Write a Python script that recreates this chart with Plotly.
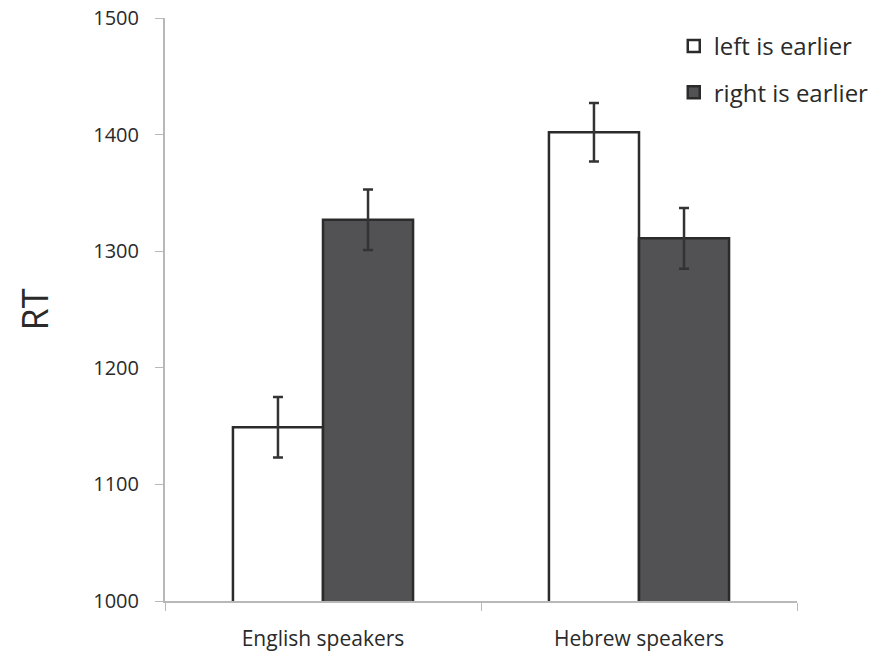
import plotly.graph_objects as go

groups = ["English speakers", "Hebrew speakers"]
left_rt = [1149, 1402]
left_err = [26, 25]
right_rt = [1327, 1311]
right_err = [26, 26]
y_ticks = [1000, 1100, 1200, 1300, 1400, 1500]

font_family = "Open Sans, sans-serif"
text_color = "#2a2a2a"
axis_gray = "#b8b8b8"

fig = go.Figure()
fig.add_trace(go.Bar(
    name="left is earlier", x=groups, y=left_rt, legendgroup="left",
    marker=dict(color="white", line=dict(color="#2b2b2b", width=2.5)),
    error_y=dict(type="data", array=left_err, color="#333333", thickness=2.5, width=5),
))
fig.add_trace(go.Bar(
    name="right is earlier", x=groups, y=right_rt, legendgroup="right",
    marker=dict(color="#525254", line=dict(color="#2b2b2b", width=2.5)),
    error_y=dict(type="data", array=right_err, color="#333333", thickness=2.5, width=5),
))

fig.update_layout(
    width=890, height=657,
    margin=dict(l=165, r=93, t=18, b=56),
    paper_bgcolor="white", plot_bgcolor="white",
    barmode="group", bargap=0.43, bargroupgap=0,
    font=dict(family=font_family, color=text_color, size=18),
    legend=dict(
        x=0.805, y=0.99, xanchor="left", yanchor="top",
        font=dict(size=24, color=text_color),
        bgcolor="rgba(0,0,0,0)", itemwidth=30,
        traceorder="grouped", tracegroupgap=12,
    ),
    xaxis=dict(
        showline=True, linecolor=axis_gray, linewidth=2,
        ticks="outside", tickson="boundaries", ticklen=8, tickcolor=axis_gray,
        tickfont=dict(size=21), ticklabelstandoff=18, showgrid=False,
        automargin=False,
    ),
    yaxis=dict(
        range=[1000, 1500], tickvals=y_ticks,
        showline=True, linecolor=axis_gray, linewidth=2,
        ticks="outside", ticklen=8, tickcolor=axis_gray,
        tickfont=dict(size=20), ticklabelstandoff=12,
        showgrid=False, zeroline=False, automargin=False,
        title=dict(text="RT", font=dict(size=36, family=font_family), standoff=34),
    ),
)

fig.write_html("out.html")
